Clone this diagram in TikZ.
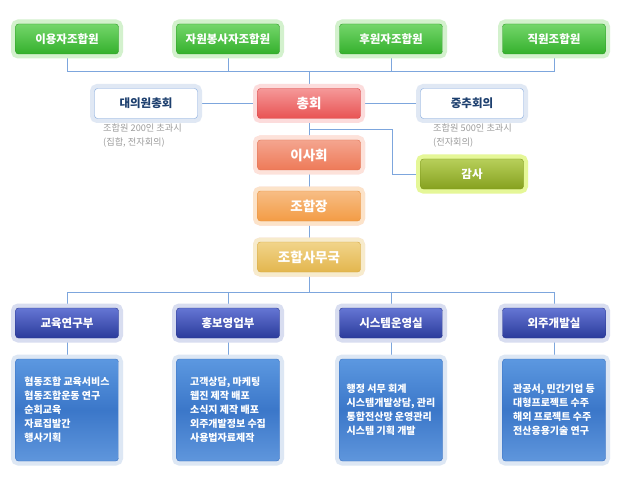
\documentclass[tikz,border=0pt]{standalone}
\usepackage{fontspec}
\newfontfamily\kr{Noto Sans CJK KR}
\usepackage{tikz}
\usetikzlibrary{positioning,backgrounds}

\definecolor{grtop}{HTML}{74D66B}\definecolor{grbot}{HTML}{34B02C}
\definecolor{grline}{HTML}{2C9A25}\definecolor{grglow}{HTML}{D3F1CD}
\definecolor{rdtop}{HTML}{F59898}\definecolor{rdbot}{HTML}{E85353}
\definecolor{rdline}{HTML}{D84848}\definecolor{rdglow}{HTML}{FCDCDC}
\definecolor{sltop}{HTML}{F4A58F}\definecolor{slbot}{HTML}{EE7A58}
\definecolor{slline}{HTML}{E0704F}\definecolor{slglow}{HTML}{FDE2DA}
\definecolor{ortop}{HTML}{F7BD85}\definecolor{orbot}{HTML}{F39C45}
\definecolor{orline}{HTML}{E8923D}\definecolor{orglow}{HTML}{FCE3C9}
\definecolor{yltop}{HTML}{F1D48A}\definecolor{ylbot}{HTML}{E3B64E}
\definecolor{ylline}{HTML}{D6A840}\definecolor{ylglow}{HTML}{F7EBCC}
\definecolor{oltop}{HTML}{B7CF5A}\definecolor{olbot}{HTML}{86A11F}
\definecolor{olline}{HTML}{7C961A}\definecolor{olglow}{HTML}{E5F797}
\definecolor{wtline}{HTML}{7FA6DC}\definecolor{wtglow}{HTML}{E0E8F4}
\definecolor{wttext}{HTML}{1D3F6E}
\definecolor{dptop}{HTML}{6576D4}\definecolor{dpbot}{HTML}{2B3B9B}
\definecolor{dpline}{HTML}{2A3890}\definecolor{dpglow}{HTML}{D8DDF0}
\definecolor{wktop}{HTML}{5C98E0}\definecolor{wkmid}{HTML}{3B77C9}
\definecolor{wkbot}{HTML}{5F96DC}\definecolor{wkline}{HTML}{3A70C0}
\definecolor{wkglow}{HTML}{DDE7F4}
\definecolor{linkblue}{HTML}{7DA6DD}\definecolor{notegray}{HTML}{9C9C9C}

\begin{document}
\begin{tikzpicture}[x=1pt,y=-1pt,
    box/.style={rounded corners=3pt, minimum width=103pt, minimum height=30pt,
      inner sep=0pt, text=white, font=\kr\bfseries\fontsize{11.5}{13}\selectfont},
    glow/.style={preaction={draw=#1, line width=9pt}},
    greenbox/.style={box, top color=grtop, bottom color=grbot, draw=grline, glow=grglow},
    redbox/.style={box, top color=rdtop, bottom color=rdbot, draw=rdline, glow=rdglow,
      font=\kr\bfseries\fontsize{13.5}{15}\selectfont},
    salmonbox/.style={redbox, top color=sltop, bottom color=slbot, draw=slline, glow=slglow},
    orangebox/.style={redbox, top color=ortop, bottom color=orbot, draw=orline, glow=orglow},
    yellowbox/.style={redbox, top color=yltop, bottom color=ylbot, draw=ylline, glow=ylglow},
    olivebox/.style={box, top color=oltop, bottom color=olbot, draw=olline, glow=olglow},
    whitebox/.style={box, fill=white, draw=wtline, glow=wtglow, text=wttext},
    deptbox/.style={box, top color=dptop, bottom color=dpbot, draw=dpline, glow=dpglow},
    workbox/.style={box, minimum height=102pt, top color=wktop, bottom color=wkbot,
      middle color=wkmid, draw=wkline, glow=wkglow, align=left,
      font=\kr\bfseries\fontsize{10}{14}\selectfont},
    note/.style={anchor=north west, inner sep=0pt, align=left, text=notegray,
      font=\kr\fontsize{9.2}{14}\selectfont},
    link/.style={draw=linkblue, line width=0.8pt}
  ]
  \useasboundingbox (0,0) rectangle (640,484);

  % members
  \node[greenbox] (iyongja) at (67,39) {이용자조합원};
  \node[greenbox] (jawon) at (228,39) {자원봉사자조합원};
  \node[greenbox] (huwon) at (391,39) {후원자조합원};
  \node[greenbox] (jigwon) at (554,39) {직원조합원};

  % governing bodies
  \node[redbox] (chonghoe) at (309,103.5) {총회};
  \node[whitebox] (daeui) at (146,103.5) {대의원총회};
  \node[whitebox] (jungchu) at (472,103.5) {중추회의};
  \node[note] (daeuinote) at (103,124) {조합원 200인 초과시\\(집합, 전자회의)};
  \node[note] (jungchunote) at (433,124) {조합원 500인 초과시\\(전자회의)};
  \node[salmonbox] (isa) at (309,155) {이사회};
  \node[olivebox] (gamsa) at (472,174) {감사};
  \node[orangebox] (johapjang) at (309,206) {조합장};
  \node[yellowbox] (samuguk) at (309,257) {조합사무국};

  % departments
  \node[deptbox] (dept1) at (67,323) {교육연구부};
  \node[deptbox] (dept2) at (228,323) {홍보영업부};
  \node[deptbox] (dept3) at (391,323) {시스템운영실};
  \node[deptbox] (dept4) at (554,323) {외주개발실};
  \node[workbox] (work1) at (67,410) {협동조합 교육서비스\\협동조합운동 연구\\순회교육\\자료집발간\\행사기획};
  \node[workbox] (work2) at (228,410) {고객상담, 마케팅\\웹진 제작 배포\\소식지 제작 배포\\외주개발정보 수집\\사용법자료제작};
  \node[workbox] (work3) at (391,410) {행정 서무 회계\\시스템개발상담, 관리\\통합전산망 운영관리\\시스템 기획 개발};
  \node[workbox] (work4) at (554,410) {관공서, 민간기업 등\\대형프로젝트 수주\\해외 프로젝트 수주\\전산응용기술 연구};

  \coordinate (topbus) at (309,71);
  \coordinate (botbus) at (309,292);
  \coordinate (gturn) at (392,129);

  \begin{scope}[on background layer]
    \fill[white] (0,0) rectangle (640,484);
    \foreach \n in {iyongja,jawon,huwon,jigwon}
      \draw[link] (\n) |- (topbus);
    \draw[link] (topbus) -- (chonghoe) -- (isa) -- (johapjang) -- (samuguk) -- (botbus);
    \draw[link] (daeui) -- (chonghoe) -- (jungchu);
    \draw[link] (chonghoe |- gturn) -- (gturn) |- (gamsa);
    \foreach \n in {1,...,4}
      \draw[link] (botbus) -| (dept\n) -- (work\n);
  \end{scope}
\end{tikzpicture}
\end{document}
